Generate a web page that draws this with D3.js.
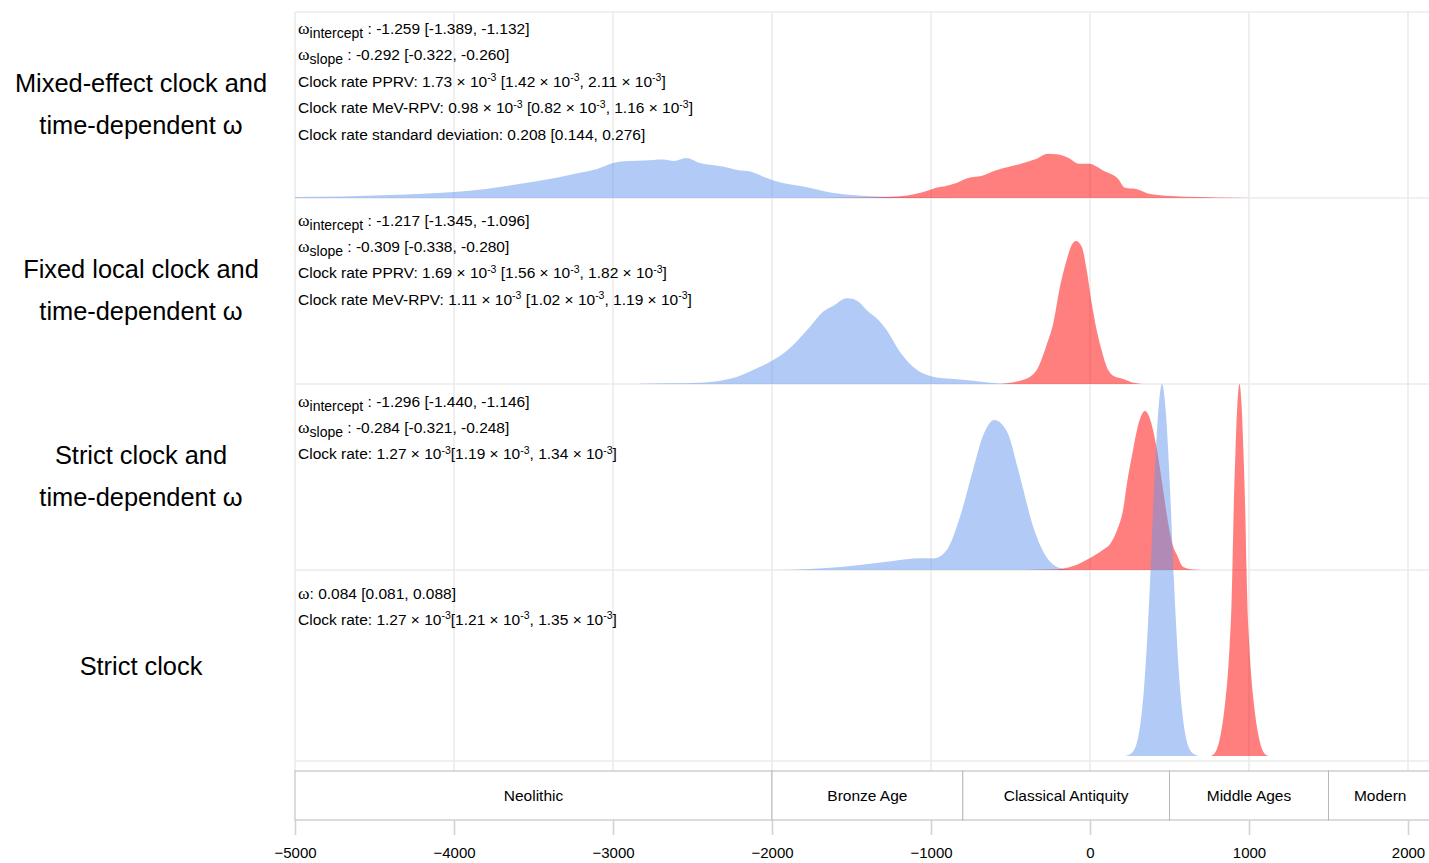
<!DOCTYPE html>
<html><head><meta charset="utf-8">
<script src="https://cdn.jsdelivr.net/npm/d3@7"></script>
<style>
body{margin:0;background:#fff}
svg{display:block}
text{font-family:"Liberation Sans",Arial,Helvetica,sans-serif;fill:#000;white-space:pre}
</style>
</head><body>
<svg id="chart" width="1429" height="863"></svg>
<script>
// ---------------- DATA ----------------
const models = ["mixed", "fixedLocal", "strictTd", "strict"];
const modelLabels = [
  ["Mixed-effect clock and", "time-dependent ω"],
  ["Fixed local clock and", "time-dependent ω"],
  ["Strict clock and", "time-dependent ω"],
  ["Strict clock"]
];
const annotations = [
  ["ω_{intercept} : -1.259 [-1.389, -1.132]",
   "ω_{slope} : -0.292 [-0.322, -0.260]",
   "Clock rate PPRV: 1.73 × 10^{-3} [1.42 × 10^{-3}, 2.11 × 10^{-3}]",
   "Clock rate MeV-RPV: 0.98 × 10^{-3} [0.82 × 10^{-3}, 1.16 × 10^{-3}]",
   "Clock rate standard deviation: 0.208 [0.144, 0.276]"],
  ["ω_{intercept} : -1.217 [-1.345, -1.096]",
   "ω_{slope} : -0.309 [-0.338, -0.280]",
   "Clock rate PPRV: 1.69 × 10^{-3} [1.56 × 10^{-3}, 1.82 × 10^{-3}]",
   "Clock rate MeV-RPV: 1.11 × 10^{-3} [1.02 × 10^{-3}, 1.19 × 10^{-3}]"],
  ["ω_{intercept} : -1.296 [-1.440, -1.146]",
   "ω_{slope} : -0.284 [-0.321, -0.248]",
   "Clock rate: 1.27 × 10^{-3}[1.19 × 10^{-3}, 1.34 × 10^{-3}]"],
  ["ω: 0.084 [0.081, 0.088]",
   "Clock rate: 1.27 × 10^{-3}[1.21 × 10^{-3}, 1.35 × 10^{-3}]"]
];
const xTicks = [-5000, -4000, -3000, -2000, -1000, 0, 1000, 2000];
const periodNames = ["Neolithic", "Bronze Age", "Classical Antiquity", "Middle Ages", "Modern"];
const periodBounds = [-5000, -2000, -800, 500, 1500, 2150];

// ridge densities: [year, relative height]
const mixedBlue = [[-5000,1],[-4700,1.5],[-4400,3],[-4000,6],[-3800,9],[-3560,14.7],[-3400,19],[-3296,22.3],[-3200,25.5],[-3100,29],[-3000,35],[-2900,37],[-2800,37.5],[-2686,38.5],[-2616,37],[-2541,40],[-2453,35],[-2302,31.3],[-2200,27.5],[-2145,26.7],[-2050,21],[-2000,18],[-1900,14],[-1786,11],[-1650,6],[-1500,3],[-1370,1.7],[-1220,0.7],[-1000,0.3],[-700,0]];
const mixedRed = [[-1700,0],[-1377,0.5],[-1195,1.7],[-1107,3.7],[-1013,7.7],[-968,10.3],[-906,12],[-836,15.3],[-767,20],[-679,22.3],[-604,27],[-516,31],[-434,34.3],[-340,39],[-264,44.3],[-208,43.7],[-138,40.3],[-69,34.3],[-6,34.3],[88,27],[176,19.3],[220,10.3],[289,9],[377,4],[509,2],[692,1],[918,0.3],[1100,0]];
const fixedBlue = [[-2830,0.3],[-2650,0.7],[-2453,1.3],[-2327,3.3],[-2201,8.3],[-2119,14],[-2000,23.3],[-1906,33.3],[-1761,57.3],[-1679,72.3],[-1616,78],[-1528,85.7],[-1465,83.3],[-1405,74],[-1321,62.3],[-1279,54],[-1195,32],[-1088,14],[-1025,9],[-987,7.3],[-862,5],[-736,3.3],[-610,1],[-522,0.3],[-400,0]];
const fixedRed = [[-566,0],[-440,3.3],[-377,7.3],[-335,14],[-273,39],[-231,60.7],[-189,97.3],[-147,124],[-115,139],[-88,143],[-52,137.3],[-21,114],[11,80.7],[42,54],[73,34],[105,17.3],[147,8.3],[210,5],[273,1.3],[357,0]];
const strictTdBlue = [[-2100,0],[-1868,0.3],[-1654,2],[-1447,5],[-1239,9],[-1069,11.7],[-985,11.5],[-901,20],[-818,53],[-734,101],[-671,135],[-602,150],[-524,139],[-440,93],[-357,43],[-272,12.5],[-189,2],[-126,0.3],[-60,0]];
const strictTdRed = [[-400,0],[-231,0.5],[-105,4],[0,12],[80,20],[126,26],[168,39],[210,62],[231,85],[273,122],[294,139],[346,159],[398,139],[419,122],[461,79],[482,56],[524,23],[545,15.7],[587,3],[650,0.5],[700,0]];
const strictBlue = [[214,0],[245,1.3],[277,6],[302,18],[321,37],[340,68],[359,115],[378,175],[396,243],[415,307],[434,353],[453,372],[472,353],[491,307],[510,243],[528,175],[547,115],[566,68],[585,37],[604,18],[629,6],[661,1.3],[692,0]];
const strictRed = [[757,0],[780,2],[798,7],[816,17],[828,27],[840,40],[853,58],[866,80],[878,110],[890,152],[896,190],[902,235],[915,305],[927,352],[940,372],[953,352],[965,305],[978,235],[984,190],[990,152],[1002,110],[1014,80],[1027,58],[1040,40],[1052,27],[1064,17],[1082,7],[1100,2],[1123,0]];

const ridges = [
  {model: "mixed", series: "blue", values: mixedBlue},
  {model: "mixed", series: "red", values: mixedRed},
  {model: "fixedLocal", series: "blue", values: fixedBlue},
  {model: "fixedLocal", series: "red", values: fixedRed},
  {model: "strictTd", series: "blue", values: strictTdBlue},
  {model: "strictTd", series: "red", values: strictTdRed},
  {model: "strict", series: "blue", values: strictBlue},
  {model: "strict", series: "red", values: strictRed}
];

// ---------------- LAYOUT ----------------
const W = 1429, H = 863;
const svg = d3.select("#chart");
const x = d3.scaleLinear().domain([-5000, 2000]).range([295, 1408]);
const y = d3.scalePoint().domain(models).range([198, 756]);
const step = y.step();
const h = d3.scaleLinear().domain([0, 186]).range([0, step]);
const panelTop = y(models[0]) - step;
const panelBottom = y(models[models.length - 1]) + 5;
const boxTop = 771, boxBottom = 820;
const colors = {blue: "cornflowerblue", red: "red"};
const annotOffsets = [16.5, 22, 17, 23];
const lineGap = 26.4;

// grid
const grid = svg.append("g");
grid.selectAll("line.v").data(xTicks).join("line")
  .attr("x1", d => x(d)).attr("x2", d => x(d))
  .attr("y1", panelTop).attr("y2", boxTop)
  .attr("stroke", "#ebebeb").attr("stroke-width", 1.6);
const hLines = [panelTop, ...models.slice(0, -1).map(m => y(m)), panelBottom];
grid.selectAll("line.h").data(hLines).join("line")
  .attr("x1", x(-5000)).attr("x2", W)
  .attr("y1", d => d).attr("y2", d => d)
  .attr("stroke", "#ebebeb").attr("stroke-width", 1.6);

// ridges
const area = d3.area()
  .curve(d3.curveMonotoneX)
  .x(d => x(d[0]));
svg.append("g").selectAll("path").data(ridges).join("path")
  .attr("d", r => area.y0(y(r.model)).y1(d => y(r.model) - h(d[1]))(r.values))
  .attr("fill", r => colors[r.series])
  .attr("fill-opacity", 0.5);

// annotations
function richText(sel, str) {
  const parts = str.split(/(_\{[^}]*\}|\^\{[^}]*\}|ω)/).filter(s => s.length);
  let shift = 0;
  parts.forEach(p => {
    let t = p, target = 0, size = null, fam = null;
    if (p.startsWith("_{")) { t = p.slice(2, -1); target = 4; size = 14; }
    else if (p.startsWith("^{")) { t = p.slice(2, -1); target = -5.5; size = 10.5; }
    else if (p === "ω") { fam = "'Liberation Serif','Times New Roman',serif"; size = 17.5; }
    const ts = sel.append("tspan").text(t).attr("dy", target - shift);
    if (size) ts.attr("font-size", size);
    if (fam) ts.style("font-family", fam);
    shift = target;
  });
}
const ann = svg.append("g").attr("font-size", 15.5);
annotations.forEach((lines, i) => {
  const top = y(models[i]) - step;
  lines.forEach((ln, j) => {
    const t = ann.append("text").attr("x", 298)
      .attr("y", top + annotOffsets[i] + j * lineGap + 5.5);
    richText(t, ln);
  });
});

// model labels
const lab = svg.append("g").attr("font-size", 25.4).attr("text-anchor", "middle");
modelLabels.forEach((lines, i) => {
  const c = y(models[i]) - (lines.length > 1 ? 94 : 90);
  lines.forEach((ln, j) => {
    lab.append("text").attr("x", 141)
      .attr("y", c + (j - (lines.length - 1) / 2) * 42.5)
      .attr("dy", "0.35em").text(ln);
  });
});

// period timeline box
const tl = svg.append("g");
const periods = periodNames.map((n, i) => ({name: n, a: periodBounds[i], b: periodBounds[i + 1]}));
tl.selectAll("rect").data(periods).join("rect")
  .attr("x", d => x(d.a)).attr("width", d => x(d.b) - x(d.a))
  .attr("y", boxTop).attr("height", boxBottom - boxTop)
  .attr("fill", "#fff").attr("stroke", "#b8b8b8").attr("stroke-width", 1);
tl.selectAll("text").data(periods).join("text")
  .attr("x", d => x((d.a + d.b) / 2)).attr("y", (boxTop + boxBottom) / 2)
  .attr("dy", "0.35em").attr("text-anchor", "middle").attr("font-size", 15.5)
  .text(d => d.name);

// x axis
const axis = svg.append("g").attr("transform", `translate(0,${boxBottom})`)
  .call(d3.axisBottom(x).tickValues(xTicks).tickFormat(d3.format("d")).tickSize(15).tickPadding(12));
axis.select(".domain").remove();
axis.selectAll(".tick line").attr("stroke", "#d2d2d2").attr("stroke-width", 1.6);
axis.selectAll(".tick text").attr("font-size", 15).attr("fill", "#000")
  .style("font-family", "'Liberation Sans',Arial,sans-serif");
</script>
</body></html>
